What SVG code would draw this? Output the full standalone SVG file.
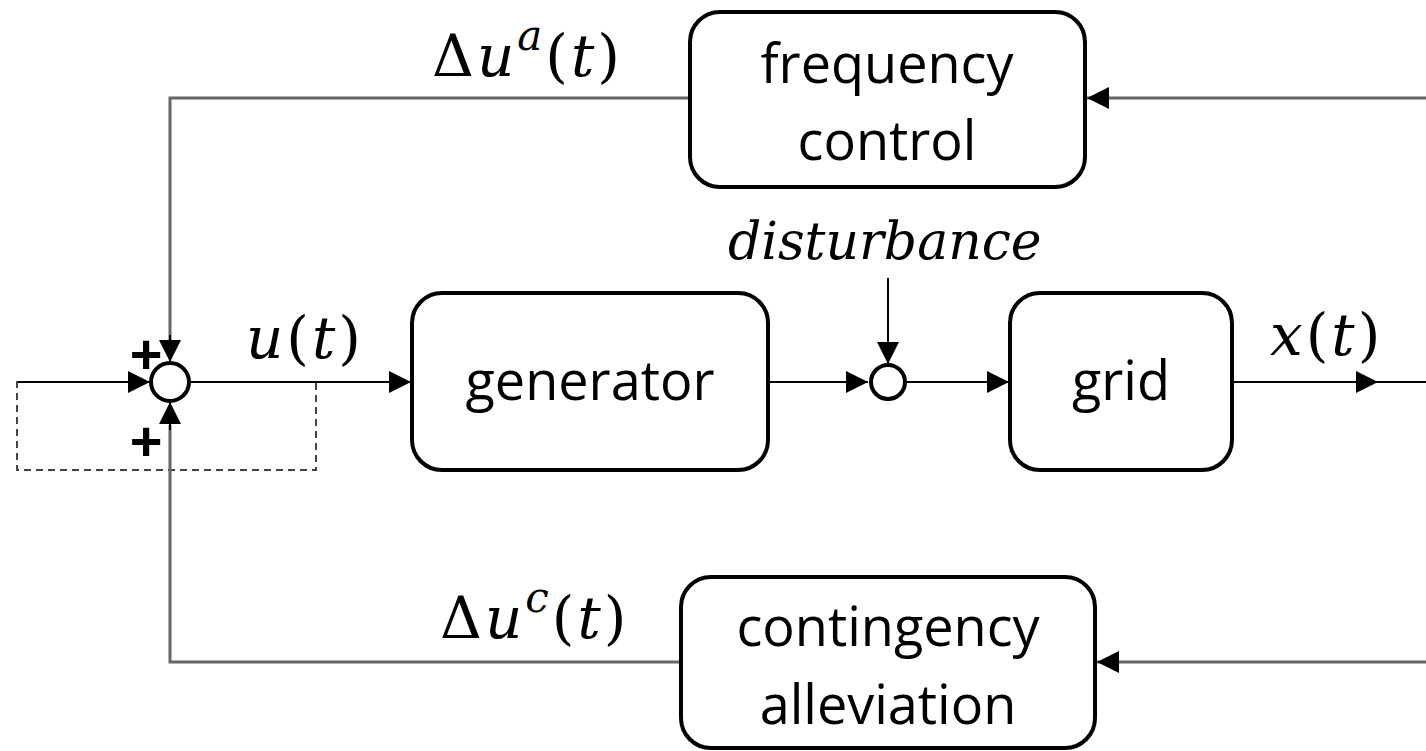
<svg xmlns="http://www.w3.org/2000/svg" width="1426" height="751" viewBox="0 0 1426 751">
<style>
.box{fill:#fff;stroke:#000;stroke-width:4}
.lbl{font-family:"Open Sans","Liberation Sans",sans-serif;font-size:54px;fill:#000;text-anchor:middle}
.math{font-family:"DejaVu Serif","Liberation Serif",serif;font-size:58px;fill:#000;letter-spacing:3px}
.it{font-style:italic}
.ln{fill:none;stroke:#000;stroke-width:2}
.gl{fill:none;stroke:#666;stroke-width:3}
.sum{fill:#fff;stroke:#000;stroke-width:4}
.plus{font-family:"Liberation Sans",sans-serif;font-size:56px;font-weight:bold;fill:#000;text-anchor:middle}
</style>
<defs>
<marker id="ah2" viewBox="0 0 10 10" refX="10" refY="5" markerWidth="22" markerHeight="22" markerUnits="userSpaceOnUse" orient="auto"><path d="M0,0 L10,5 L0,10 Z" fill="#000"/></marker>
</defs>
<g id="connectors">
<rect x="17" y="382" width="299" height="88" fill="none" stroke="#444" stroke-width="2" stroke-dasharray="7,5"/>
<path class="ln" d="M18,382 H150" marker-end="url(#ah2)"/>
<path class="ln" d="M190,382 H411" marker-end="url(#ah2)"/>
<path class="ln" d="M768,382 H868" marker-end="url(#ah2)"/>
<path class="ln" d="M906,382 H1009" marker-end="url(#ah2)"/>
<path class="ln" d="M1232,382 H1426"/>
<path class="ln" d="M1350,382 H1378" marker-end="url(#ah2)"/>
<path class="ln" d="M888,278 V364" marker-end="url(#ah2)"/>
<path class="gl" d="M1426,98 H1087" marker-end="url(#ah2)"/>
<path class="gl" d="M690,98 H170 V340"/>
<path class="ln" d="M170,335 V362" marker-end="url(#ah2)"/>
<path class="gl" d="M1426,662 H1097" marker-end="url(#ah2)"/>
<path class="gl" d="M681,662 H170 V425"/>
<path class="ln" d="M170,430 V402" marker-end="url(#ah2)"/>
</g>
<g id="sum1"><circle class="sum" cx="170" cy="382" r="19"/>
<text class="plus" x="146" y="373">+</text><text class="plus" x="146" y="460">+</text></g>
<g id="sum2"><circle class="sum" cx="888" cy="382" r="17"/></g>
<g id="freq"><rect class="box" x="690" y="12" width="395" height="175" rx="30"/>
<text class="lbl" x="887" y="83">frequency</text><text class="lbl" x="887" y="160">control</text></g>
<g id="generator"><rect class="box" x="412" y="293" width="356" height="177" rx="30"/>
<text class="lbl" x="590" y="400">generator</text></g>
<g id="grid"><rect class="box" x="1010" y="293" width="222" height="177" rx="30"/>
<text class="lbl" x="1121" y="400">grid</text></g>
<g id="contingency"><rect class="box" x="681" y="577" width="414" height="171" rx="30"/>
<text class="lbl" x="888" y="646">contingency</text><text class="lbl" x="888" y="724">alleviation</text></g>
<g id="labels">
<text class="math" x="432" y="76">Δ<tspan class="it">u</tspan><tspan class="it" font-size="42" dy="-26">a</tspan><tspan dy="26">(</tspan><tspan class="it">t</tspan>)</text>
<text class="math" x="440" y="638">Δ<tspan class="it">u</tspan><tspan class="it" font-size="42" dy="-26">c</tspan><tspan dy="26">(</tspan><tspan class="it">t</tspan>)</text>
<text class="math" x="246" y="358"><tspan class="it">u</tspan>(<tspan class="it">t</tspan>)</text>
<text class="math" x="1270" y="355"><tspan class="it">x</tspan>(<tspan class="it">t</tspan>)</text>
<text class="math it" x="728" y="259" style="font-size:52px;letter-spacing:0px">disturbance</text>
</g>
</svg>
